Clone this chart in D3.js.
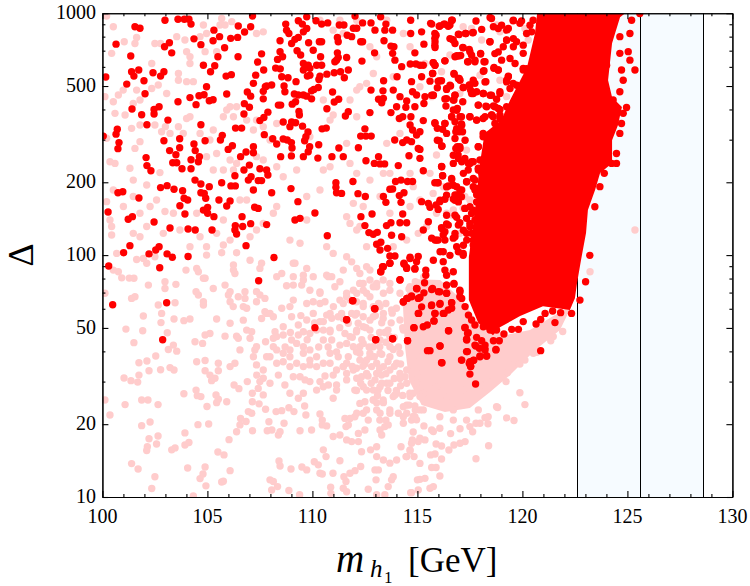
<!DOCTYPE html>
<html>
<head>
<meta charset="utf-8">
<script src="https://cdn.jsdelivr.net/npm/d3@7"></script>
<style>
  html, body { margin: 0; padding: 0; background: #fff; }
  svg { display: block; }
  text { font-family: "Liberation Serif", serif; fill: #000; }
</style>
</head>
<body>
<div id="chart"></div>
<script>
// values: [m_h1 in GeV, log10 of Delta]
const xTicks = [100, 105, 110, 115, 120, 125, 130];
const xMinor = d3.range(100, 131).filter(d => d % 5 !== 0);
const yTicks = [10, 20, 50, 100, 200, 500, 1000];
const yMinor = [30, 40, 60, 70, 80, 90, 300, 400, 600, 700, 800, 900];
const higgsLines = [122.6, 125.6, 128.6];

// outline of the part where the red points merge into one solid patch
const redCloudEdge = [[120.70,3.0],[120.60,2.917],[120.22,2.777],[119.41,2.64],[119.0,2.558],[118.2,2.504],[117.95,2.364],[117.8,2.227],[117.6,2.09],[117.45,1.992],[117.45,1.814],[117.9,1.719],[118.6,1.669],[118.93,1.702],[119.89,1.748],[120.98,1.789],[122.26,1.773],[122.5,1.822],[122.6,1.884],[122.79,1.979],[123.03,2.091],[123.12,2.186],[123.46,2.269],[123.70,2.339],[124.27,2.380],[124.27,2.475],[124.55,2.537],[124.74,2.612],[124.27,2.653],[124.08,2.723],[124.27,2.876],[124.65,2.983],[124.89,3.0]];
// same for the merged pink patch under it
const pinkCloudEdge = [[114.3,1.814],[114.9,1.9],[116.08,1.897],[117.12,1.814],[117.98,1.711],[119.17,1.669],[120.36,1.69],[121.55,1.752],[122.36,1.793],[121.79,1.69],[120.6,1.607],[119.41,1.504],[118.46,1.434],[117.5,1.368],[116.31,1.351],[115.2,1.38],[114.6,1.483],[114.4,1.628]];

const pinkPoints = [
[100.12,1.842],[100.12,1.401],[100.36,1.339],[100.52,1.938],[100.76,1.931],[100.92,1.906],[101.28,1.905],[101.50,1.904],[101.39,1.821],[101.55,1.828],[102.19,1.876],[102.98,1.890],[103.50,1.879],[102.98,1.862],[101.95,1.748],[102.79,1.721],[102.82,1.759],[102.66,1.794],[103.46,1.803],[103.41,1.736],[103.88,1.729],[104.17,1.736],[101.12,1.694],[101.92,1.687],[101.50,1.638],[103.09,1.679],[103.14,1.610],[103.38,1.628],[103.54,1.603],[102.54,1.583],[102.12,1.562],[101.74,1.555],[102.22,1.522],[101.74,1.504],[101.03,1.492],[101.36,1.481],[101.68,1.475],[102.77,1.526],[103.22,1.535],[103.41,1.525],[104.49,1.559],[104.89,1.564],[104.89,1.522],[105.52,1.553],[105.52,1.522],[105.12,1.504],[105.20,1.481],[105.36,1.491],[106.27,1.463],[106.50,1.448],[106.90,1.477],[103.88,1.427],[104.46,1.442],[104.52,1.419],[104.69,1.415],[105.41,1.422],[105.52,1.404],[105.44,1.390],[105.92,1.394],[104.98,1.374],[101.87,1.401],[102.17,1.401],[102.65,1.382],[101.08,1.382],[101.87,1.295],[102.27,1.310],[104.55,1.299],[105.06,1.302],[102.65,1.252],[102.22,1.241],[102.14,1.208],[102.11,1.192],[102.58,1.219],[103.93,1.265],[103.93,1.215],[104.12,1.225],[103.30,1.195],[103.46,1.203],[106.03,1.237],[105.50,1.186],[105.79,1.174],[101.39,1.138],[101.70,1.116],[104.06,1.120],[104.89,1.124],[104.79,1.095],[104.65,1.076],[106.08,1.109],[102.50,1.084],[102.35,1.035],[104.93,1.046],[105.68,1.062],[105.76,1.065],[104.33,1.004],
[107.98,1.071],[108.14,1.064],[108.06,1.029],[108.34,1.043],[108.88,1.027],[108.41,1.149],[108.46,1.128],[108.98,1.116],[109.50,1.124],[109.73,1.112],[110.09,1.146],[110.28,1.133],[110.36,1.098],[110.47,1.095],[110.98,1.098],[109.39,1.009],[110.87,1.040],[110.88,1.015],[111.50,1.084],[111.60,1.064],[111.47,1.036],[111.63,1.022],[111.79,1.098],[112.03,1.109],[112.30,1.126],[112.66,1.032],[112.98,1.112],[113.14,1.112],[113.03,1.071],[113.85,1.084],[113.77,1.071],[113.61,1.043],[113.45,1.009],[113.06,1.009],[114.72,1.018],[115.00,1.071],
[110.52,1.195],[110.65,1.167],[111.31,1.150],[112.34,1.187],[112.77,1.195],[113.06,1.208],[113.06,1.167],[113.38,1.153],[113.69,1.140],[114.01,1.153],[114.49,1.167],[114.65,1.195],[114.76,1.236],[115.04,1.229],
[106.39,1.270],[107.15,1.274],[107.85,1.274],[108.07,1.277],[108.38,1.256],[108.46,1.270],[108.65,1.305],[109.41,1.274],[109.96,1.277],[107.93,1.311],[106.55,1.298],[106.84,1.312],[106.58,1.325],[106.95,1.353],[107.11,1.346],[107.14,1.394],[107.14,1.429],[107.46,1.385],[107.77,1.363],[108.27,1.353],[108.54,1.357],[108.88,1.369],[109.12,1.353],[109.69,1.339],[109.63,1.376],[110.36,1.343],[110.47,1.318],[110.47,1.298],[110.68,1.294],[111.60,1.291],[111.31,1.256],[111.63,1.236],[111.87,1.229],[112.19,1.229],[112.50,1.277],[112.19,1.263],[110.99,1.250],[111.79,1.325],[112.11,1.346],[112.50,1.394],[113.06,1.390],[113.38,1.390],[113.85,1.415],[114.49,1.380],[114.88,1.376],[115.12,1.360],[113.50,1.318],[113.61,1.298],[113.22,1.277],[113.30,1.256],[114.09,1.346],[114.33,1.305],[114.72,1.318],
[107.35,1.504],[107.50,1.477],[107.42,1.449],[107.66,1.422],[107.98,1.470],[107.66,1.491],[108.38,1.504],[108.69,1.463],[108.93,1.429],[109.33,1.408],[109.57,1.429],[110.20,1.442],[110.52,1.456],[110.76,1.463],[111.15,1.463],[111.15,1.442],[110.99,1.408],[110.99,1.504],[110.36,1.477],[109.09,1.497],[109.41,1.497],[109.65,1.484],[109.88,1.477],[108.93,1.539],[109.25,1.553],[109.57,1.539],[109.88,1.546],[108.30,1.553],[107.66,1.525],[107.19,1.580],[107.26,1.608],[107.34,1.546],[107.82,1.580],[108.14,1.621],[108.61,1.559],[108.93,1.608],[109.25,1.635],[109.57,1.621],[109.88,1.608],[110.20,1.580],[110.52,1.649],[110.84,1.594],[111.23,1.580],[111.63,1.553],[111.95,1.525],[112.11,1.491],[112.42,1.456],[112.90,1.442],[113.22,1.456],[113.54,1.470],[114.01,1.429],[114.41,1.497],[114.80,1.429],[111.63,1.484],[111.47,1.539],[113.06,1.511],[113.38,1.539],[113.69,1.580],[114.01,1.553],[114.49,1.525],[114.96,1.511],[115.12,1.580],[112.26,1.594],[112.58,1.566],[112.90,1.621],[113.22,1.594],[113.69,1.621],[114.17,1.594],[114.65,1.621],
[106.87,1.690],[107.11,1.683],[106.55,1.608],[106.31,1.553],[106.08,1.539],[105.84,1.665],[106.39,1.665],[106.47,1.656],[107.03,1.656],[107.34,1.621],[107.77,1.642],[108.14,1.656],[108.30,1.663],[108.61,1.670],[109.01,1.649],[109.33,1.670],[109.57,1.683],[109.88,1.676],[110.20,1.690],[110.84,1.690],[110.84,1.683],[111.55,1.676],[111.79,1.663],[112.11,1.690],[112.42,1.704],[112.74,1.690],[106.71,1.731],[106.08,1.718],[105.44,1.736],[105.12,1.676],[104.89,1.670],[104.77,1.635],[104.41,1.642],[104.57,1.835],[104.46,1.849],[104.81,1.807],[104.81,1.794],[105.28,1.862],[105.84,1.876],[106.08,1.849],[106.00,1.835],[106.08,1.807],[106.47,1.828],[106.23,1.787],[106.79,1.849],[106.79,1.821],[106.71,1.787],[106.87,1.780],[107.34,1.849],[107.50,1.835],[107.74,1.821],[107.34,1.807],[107.74,1.766],[107.82,1.759],[107.58,1.738],[107.98,1.759],[108.14,1.745],[108.22,1.683],[108.61,1.704],[108.54,1.780],[108.93,1.787],[109.09,1.814],[109.49,1.876],[109.09,1.876],[108.77,1.873],[109.73,1.800],[110.04,1.807],[110.36,1.800],[110.60,1.807],[110.36,1.848],[110.84,1.759],[110.52,1.725],[110.92,1.739],[111.23,1.745],[111.31,1.814],[112.11,1.842],[112.42,1.883],[112.74,1.897],[113.06,1.869],[111.79,1.814],[112.11,1.759],[112.42,1.787],[112.90,1.745],[113.22,1.787],
[109.57,1.917],[109.17,1.966],[109.73,1.945],[110.04,1.911],[110.68,1.917],[110.92,1.911],[111.63,1.993],[112.11,1.945],[112.58,1.952],[106.24,1.959],[106.24,1.938],[106.31,1.924],[107.03,1.979],[107.58,1.966],[107.50,1.945],[108.30,1.911],[108.54,1.924],[109.09,1.911],[104.89,1.904],[104.81,1.904],[104.49,1.945],[104.57,1.931],[103.98,1.938],[102.50,1.993],[102.11,1.966],[101.63,1.982],[101.95,1.986],[104.96,2.000],[105.68,2.010],[106.39,2.010],
[100.52,2.944],[100.20,2.988],[101.04,2.882],[101.55,2.875],[101.63,2.900],[100.44,2.834],[102.35,2.792],[102.50,2.875],[102.77,2.875],[104.01,2.841],[104.17,2.820],[103.54,2.903],[103.93,2.889],[104.81,2.951],[104.96,2.916],[104.65,2.903],[105.68,2.978],[105.60,2.951],[107.66,2.923],[107.34,2.916],[105.84,2.951],[106.16,2.965],[104.17,2.792],[104.89,2.841],[105.44,2.841],[103.62,2.751],[104.01,2.717],[104.33,2.717],[103.62,2.723],[103.06,2.668],[102.66,2.703],[102.35,2.689],[101.63,2.682],[100.99,2.682],[100.76,2.662],[101.47,2.627],[101.79,2.641],[100.52,2.634],[100.60,2.586],[100.12,2.655],[101.08,2.579],[101.39,2.524],[101.79,2.538],[101.55,2.441],[101.79,2.469],[100.20,2.483],[100.36,2.386],[100.60,2.379],[101.31,2.359],[102.74,2.341],[101.47,2.310],[102.11,2.290],[100.52,2.269],[100.20,2.221],[102.98,2.180],[103.38,2.173],[100.44,2.118],[101.79,2.076],[100.68,2.007],[100.44,2.083],[101.47,2.090],[102.90,2.090],[103.69,2.104],[104.65,2.076],[105.76,2.042],[104.17,2.035],[104.96,2.035],[103.00,2.531],[102.50,2.538],[102.82,2.510],[104.01,2.565],[104.17,2.572],[103.85,2.503],[103.62,2.531],[103.22,2.503],[104.65,2.503],[105.28,2.517],[105.76,2.572],[105.92,2.600],[106.08,2.613],[106.39,2.613],[106.24,2.572],[106.87,2.558],[107.19,2.517],[107.34,2.558],[105.12,2.476],[105.44,2.420],[106.08,2.393],[106.24,2.352],[105.76,2.352],[104.96,2.407],[105.28,2.352],[106.39,2.379],[108.30,2.365],[108.61,2.324],[107.66,2.393],[107.34,2.407],[109.25,2.352],[110.52,2.352],[110.84,2.365],[111.63,2.462],[111.79,2.379],[112.11,2.338],[109.88,2.489],[110.84,2.558],[110.99,2.579],[111.79,2.641],[112.11,2.572],[112.26,2.696],[110.52,2.641],[107.66,2.531],[108.30,2.544],[107.98,2.476],[109.73,2.242],[110.36,2.269],[109.73,2.145],[108.30,2.201],[107.66,2.131],[107.34,2.104],[107.03,2.076],[108.93,2.062],[109.41,2.049],[110.68,2.035],[110.99,2.007],[112.11,2.104],[111.63,2.159],[111.79,2.131],[108.14,2.173],[106.55,2.228],[106.87,2.228],[105.76,2.145],[105.44,2.090],[106.08,2.062],[104.49,2.173],[102.58,2.228],[102.27,2.201],[101.47,2.242],[101.00,2.201],[100.36,2.145],[102.11,2.118],[101.79,2.173],
[111.31,2.971],[110.36,2.971],[110.99,2.930],[111.47,2.916],[112.11,2.971],[113.54,2.971],[114.33,2.916],[114.65,2.861],[112.74,2.861],[113.06,2.820],[112.90,2.751],[112.58,2.710],[112.11,2.682],[113.85,2.737],[114.17,2.503],[113.54,2.462],[113.38,2.338],[112.74,2.310],[113.69,2.338],[114.65,2.338],[114.80,2.283],[113.22,2.242],[112.42,2.201],[111.95,2.214],[112.26,2.118],[113.69,2.173],[114.65,2.201],[115.12,2.228],[115.04,2.090],[114.49,2.062],[113.85,2.035],[112.58,2.035],
[117.18,2.944],[117.58,2.937],[118.06,2.889],[118.93,2.923],[118.77,2.951],[120.28,2.889],[120.12,2.937],[120.91,2.847],[116.55,2.827],[116.15,2.758],[115.36,2.792],[115.12,2.696],[117.02,2.668],[119.56,2.703],[119.25,2.655],[118.93,2.723],[117.98,2.744],[115.68,2.655],[117.34,2.434],[115.91,2.414],[115.60,2.338],[115.75,2.255],[117.02,2.242],[117.26,2.242],[117.18,2.194],[116.23,2.283],[116.71,2.187],[116.39,2.173],[117.50,2.228],[116.63,2.166],[117.02,2.090],[116.23,2.090],[115.44,2.118],[115.91,2.173],[125.36,2.104],
[123.22,1.931],[121.92,1.684],[121.47,1.663],[121.35,1.646],[120.52,1.594],[120.68,1.598],[120.12,1.566],[119.88,1.550],[119.49,1.544],[119.28,1.514],[119.22,1.477],[119.88,1.431],[120.12,1.382],[118.82,1.370],[119.25,1.327],[119.60,1.316],[118.36,1.303],[118.22,1.328],[117.90,1.360],[117.79,1.305],[117.50,1.291],[117.63,1.270],[117.03,1.282],[116.58,1.262],[118.39,1.212],[117.79,1.158],[117.27,1.229],[117.03,1.222],[116.74,1.215],[116.50,1.194],[116.15,1.211],[115.89,1.219],[116.15,1.157],[115.84,1.178],[115.63,1.174],[115.12,1.139],[115.68,1.122],[115.89,1.122],[116.07,1.087],[115.36,1.077],[115.12,1.073],[115.76,1.043],[115.60,1.036],[115.04,1.029],[114.68,1.018],[114.46,1.167],[114.84,1.167],[114.65,1.190],[114.22,1.208],[114.72,1.222],[115.12,1.243],[115.36,1.236],[115.68,1.277],[116.07,1.284],[114.80,1.269],[115.31,1.294],[114.96,1.319],[114.49,1.346],[114.80,1.333],[115.76,1.271],
[111.47,1.938],[111.87,1.972],[112.26,1.924],[112.74,1.938],[113.06,1.883],[112.26,1.883],[111.63,1.842],[112.42,1.855],[112.74,1.828],[113.37,1.897],[113.69,1.855],[112.10,1.807],[111.47,1.800],[112.42,1.800],[111.87,1.759],[112.74,1.731],[113.37,1.738],[111.47,1.738],[112.18,1.718],[112.10,1.683],[111.63,1.635],[112.26,1.621],[111.71,1.580],[112.26,1.566],[112.74,1.580],[113.21,1.621],[111.47,1.539],[112.10,1.532],[112.82,1.539],[111.63,1.511],[112.34,1.497],[112.98,1.484],[113.29,1.504],[112.02,1.442],[112.58,1.442],[113.13,1.442],[113.69,1.470],[114.17,1.490],[113.93,1.422],[113.37,1.401],[112.90,1.401],[112.26,1.387],[112.58,1.360],[113.06,1.360],[112.02,1.332],[111.55,1.325],[111.71,1.298],[112.66,1.318],[113.21,1.318],[113.69,1.346],[114.33,1.373],[113.45,1.291],[114.33,1.332],[114.88,1.332],[115.28,1.360],[116.07,1.332],[116.71,1.318],[117.34,1.318],[117.98,1.305],[118.37,1.332],[118.77,1.373],[116.71,1.360],[114.64,1.429],[115.28,1.429],[115.91,1.456],[116.39,1.415],[117.18,1.442],[118.13,1.435],[118.29,1.484],
[109.09,1.966],[109.57,1.897],[109.88,1.855],[110.36,1.842],[110.76,1.911],[111.07,1.869],[111.31,1.890],[111.63,1.828],[111.95,1.855],[112.26,1.883],[112.58,1.842],[112.90,1.869],[113.38,1.842],[113.69,1.883],[114.17,1.842],[114.65,1.869],[115.12,1.828],[109.01,1.745],[109.33,1.711],[109.73,1.732],[110.04,1.759],[110.36,1.725],[110.68,1.752],[111.00,1.787],[111.39,1.759],[111.71,1.718],[112.03,1.752],[112.42,1.745],[112.90,1.787],[113.38,1.759],[113.77,1.773],[114.17,1.732],[114.65,1.759],[115.04,1.718],[110.52,1.690],[110.92,1.649],[111.31,1.628],[111.95,1.621],[112.42,1.635],[112.74,1.594],[113.22,1.649],[113.69,1.663],[114.33,1.690],[114.96,1.663],[109.57,1.594],[109.88,1.566],[110.20,1.539],[110.52,1.553],[110.84,1.553],[111.15,1.525],[108.61,1.594],[108.93,1.580],[108.30,1.608],[107.98,1.580],[112.58,1.511],[113.06,1.553],[113.69,1.525],[114.17,1.511],[114.96,1.470],[114.49,1.470],[112.90,1.401],[113.69,1.360],[114.65,1.415],[115.12,1.415],[113.22,1.346],[112.42,1.346],
[113.5,1.80],[113.8,1.76],[113.3,1.72],[113.6,1.69],[113.9,1.66],[113.2,1.68],[113.5,1.64],[113.85,1.61],[113.3,1.59],[113.6,1.56],[113.9,1.54],[113.2,1.53],[113.5,1.51],[113.9,1.49],[114.2,1.46],[114.0,1.44],[113.6,1.44],[113.3,1.47],[114.3,1.42],[114.6,1.38],[114.9,1.36],[114.2,1.55],[114.1,1.62],[114.3,1.70],[114.0,1.78],[114.4,1.80],[114.6,1.86],[114.9,1.89],[115.3,1.91],[112.8,1.66],[112.7,1.62],[112.5,1.55],[112.8,1.47],[112.3,1.47],[112.1,1.60],[111.9,1.66],[111.9,1.54],[112.1,1.44],
[113.0,1.75],[113.15,1.80],[113.75,1.72],[112.95,1.58],[113.45,1.68],[112.55,1.70],[112.35,1.65],[112.65,1.50],[113.1,1.42],[112.4,1.54],[111.3,1.70],[111.15,1.60],[110.75,1.62],[110.6,1.50],[110.3,1.62],[110.1,1.72],[109.75,1.65],[109.45,1.75],[108.95,1.68],[108.7,1.62]
];

const redPoints = [
[102.98,2.971],[103.60,2.975],[103.90,2.975],[104.12,2.975],[104.22,2.955],[101.55,2.944],[101.79,2.938],[105.31,2.930],[106.47,2.947],[107.06,2.944],[106.77,2.922],[107.15,2.988],[100.65,2.872],[102.96,2.861],[103.19,2.878],[103.30,2.836],[101.35,2.823],[104.36,2.894],[104.69,2.870],[105.27,2.886],[105.58,2.903],[106.11,2.896],[106.44,2.900],[105.82,2.857],[105.50,2.820],[106.46,2.820],[104.81,2.785],[105.35,2.783],[105.15,2.758],[105.89,2.740],[106.14,2.746],[101.73,2.765],[101.39,2.758],[101.50,2.740],[102.41,2.754],[102.77,2.740],[102.93,2.758],[100.16,2.736],[101.16,2.707],[101.98,2.721],[102.03,2.667],[104.96,2.696],[104.17,2.651],[104.60,2.659],[104.84,2.663],[103.60,2.634],[104.46,2.622],[105.09,2.638],[105.27,2.642],[105.92,2.666],[101.41,2.604],[101.87,2.580],[102.46,2.602],[102.46,2.583],[102.70,2.613],[103.12,2.558],[102.12,2.539],[100.71,2.520],[100.65,2.500],[100.04,2.492],[100.79,2.465],[100.74,2.440],[102.93,2.473],[103.68,2.481],[103.68,2.444],[103.20,2.432],[103.50,2.415],[102.08,2.403],[102.12,2.370],[102.31,2.349],[103.35,2.382],[103.54,2.382],[103.79,2.357],[104.22,2.357],[104.22,2.394],[104.36,2.459],[104.42,2.432],[104.62,2.407],[104.57,2.386],[104.89,2.473],[104.69,2.539],[105.71,2.495],[105.62,2.476],[105.99,2.437],[106.19,2.452],[106.34,2.525],[106.63,2.525],[106.58,2.407],[106.84,2.426],[107.19,2.448],[107.19,2.423],[106.74,2.583],[106.76,2.626],[107.00,2.611],[106.90,2.674],[107.06,2.657],[107.19,2.710],[107.30,2.744],[107.68,2.765],[107.39,2.798],[107.58,2.832],[107.76,2.696],[107.66,2.677],[107.82,2.699],[108.06,2.703],[107.66,2.646],[107.88,2.591],[107.69,2.569],[107.50,2.556],[108.38,2.620],[108.49,2.620],[108.61,2.550],[107.71,2.498],[108.11,2.481],[108.30,2.459],[108.61,2.480],[108.80,2.476],[109.00,2.465],[109.03,2.443],[108.49,2.407],[109.00,2.410],[108.93,2.531],[109.01,2.550],[109.20,2.547],[109.53,2.533],[109.79,2.509],[109.69,2.489],[109.63,2.473],[109.87,2.448],[109.80,2.427],[109.57,2.407],[110.30,2.456],[110.26,2.401],[110.93,2.407],[111.26,2.443],[111.47,2.407],[110.46,2.522],[110.66,2.525],[110.69,2.605],[109.36,2.594],[109.38,2.579],[109.20,2.634],[109.04,2.624],[109.14,2.666],[109.33,2.662],[109.73,2.657],[109.57,2.662],[109.96,2.646],[109.96,2.679],[110.28,2.693],[110.07,2.685],[110.96,2.674],[111.25,2.644],[111.04,2.633],[111.71,2.593],[111.57,2.575],[108.65,2.699],[108.69,2.675],[108.54,2.737],[108.84,2.733],[109.22,2.717],[108.47,2.770],[108.25,2.773],[108.34,2.809],[108.46,2.841],[108.58,2.820],[108.46,2.886],[108.73,2.955],[108.77,2.930],[108.88,2.916],[109.01,2.875],[109.17,2.892],[109.33,2.900],[109.27,2.845],[109.44,2.827],[109.57,2.792],[109.80,2.785],[109.88,2.772],[109.57,2.765],[109.88,2.744],[109.76,2.740],[110.04,2.847],[109.82,2.878],[110.33,2.882],[110.44,2.882],[110.39,2.820],[110.20,2.785],[110.44,2.785],[110.36,2.740],[110.31,2.726],[110.69,2.748],[111.04,2.754],[111.34,2.758],[111.52,2.733],[111.71,2.765],[111.15,2.806],[111.07,2.799],[111.19,2.836],[111.23,2.817],[111.63,2.817],[112.36,2.802],[111.19,2.900],[111.23,2.882],[111.28,2.951],[111.50,2.951],[111.66,2.909],[111.87,2.903],[111.95,2.938],[112.11,2.938],[112.30,2.882],[112.39,2.882],[112.39,2.960],[112.79,2.960],[112.98,2.930],[112.96,2.836],[113.41,2.886],[113.45,2.930],[113.50,2.955],[113.82,2.930],[109.73,2.985],[109.33,2.969],[109.52,2.955],[109.73,2.937],[109.57,2.923],[110.17,2.969],[110.44,2.955],[110.73,2.960],[112.03,2.988],[113.25,2.985],[113.74,2.864],[113.88,2.861],[113.82,2.834],[113.93,2.806],[114.25,2.779],[114.66,2.790],[114.88,2.836],[114.93,2.790],[115.12,2.785],[114.68,2.971],[114.68,2.916],[113.39,2.721],[114.03,2.737],[114.72,2.717],[112.79,2.682],[113.36,2.679],[113.85,2.682],[114.77,2.675],[114.96,2.662],[112.74,2.589],[113.15,2.644],[113.38,2.648],[113.30,2.630],[114.17,2.655],[114.49,2.637],[113.74,2.589],[114.01,2.613],[114.45,2.611],[114.88,2.613],[114.30,2.572],[114.14,2.565],[114.69,2.572],[114.65,2.538],[114.77,2.517],[114.96,2.496],[115.12,2.510],[112.50,2.522],[112.30,2.492],[112.55,2.492],[112.80,2.492],[113.92,2.476],[114.30,2.465],[114.49,2.476],[114.72,2.469],[112.19,2.444],[114.60,2.411],[115.04,2.441],[113.15,2.407],[112.55,2.390],[112.95,2.379],[113.22,2.377],[113.44,2.377],[114.09,2.370],[115.12,2.400],[113.96,2.304],[114.22,2.310],[114.53,2.304],[114.77,2.304],[111.93,2.304],[111.12,2.299],[111.12,2.280],[111.15,2.258],[111.39,2.255],[112.17,2.254],[112.52,2.242],[113.38,2.242],[113.82,2.273],[113.69,2.272],[114.36,2.258],[114.14,2.246],[113.50,2.218],[114.22,2.218],[114.30,2.170],[112.84,2.170],[112.31,2.159],[112.50,2.122],[113.53,2.122],[113.74,2.134],[114.17,2.134],[114.49,2.134],[112.69,2.093],[112.90,2.086],[113.09,2.094],[113.77,2.082],[114.25,2.076],[113.06,2.045],[113.26,2.053],[113.22,2.021],[113.58,2.028],[113.69,1.996],[113.93,1.996],[114.65,1.991],[115.04,1.994],[110.71,2.080],[110.12,2.174],[109.17,2.145],[109.41,2.152],[109.31,2.221],[108.98,2.275],[108.06,2.258],[107.19,2.269],[107.25,2.198],[107.42,2.193],[107.82,2.126],[107.06,2.130],[106.68,2.118],[106.65,2.159],[106.33,2.122],[106.31,2.104],[106.39,2.087],[106.84,2.039],[108.17,1.990],[105.68,2.299],[106.12,2.286],[106.33,2.286],[106.31,2.328],[106.95,2.310],[107.08,2.324],[107.42,2.308],[107.58,2.308],[107.82,2.352],[107.88,2.331],[107.50,2.357],[106.74,2.352],[107.00,2.372],[105.09,2.283],[104.69,2.294],[104.41,2.310],[104.69,2.258],[104.85,2.255],[104.92,2.235],[105.55,2.228],[106.08,2.224],[105.92,2.203],[105.01,2.197],[104.81,2.186],[105.01,2.173],[105.31,2.159],[105.22,2.104],[104.42,2.104],[104.08,2.108],[103.93,2.170],[103.69,2.204],[104.06,2.228],[103.89,2.235],[103.82,2.266],[103.41,2.272],[103.08,2.287],[102.77,2.279],[101.74,2.236],[100.97,2.262],[100.74,2.258],[100.27,2.178],[101.23,2.148],[101.43,2.159],[102.46,2.137],[103.22,2.112],[101.31,2.039],[101.01,2.010],[102.22,2.005],[102.54,2.021],[102.70,2.035],[103.08,2.005],[103.33,1.991],[104.08,1.994],
[100.30,1.955],[100.49,1.795],[102.73,1.948],[103.06,1.803],[102.87,1.650],[107.44,1.894],[110.12,1.700],[111.93,1.811],[111.63,1.733],[112.96,1.778],[113.01,1.650],[113.82,1.654],[114.53,1.646],[114.84,1.700],[115.04,1.759],[114.17,1.898],[113.26,1.931],[113.38,1.952],[113.69,1.966],[114.36,1.963],[114.49,1.945],[114.88,1.945],[114.96,1.973],[114.65,1.986],[114.33,1.807],[114.49,1.821],[114.72,1.828],[115.04,1.821],[114.96,1.862],
[115.63,2.958],[116.07,2.947],[116.26,2.955],[116.55,2.951],[116.66,2.971],[115.83,2.916],[115.83,2.896],[115.20,2.923],[115.31,2.872],[115.83,2.868],[116.66,2.892],[116.79,2.875],[116.99,2.912],[117.29,2.916],[117.66,2.920],[118.06,2.933],[118.45,2.882],[118.53,2.978],[118.85,2.937],[119.25,2.930],[119.56,2.969],[119.88,2.958],[119.25,2.889],[119.72,2.882],[117.18,2.857],[117.50,2.841],[117.74,2.806],[118.01,2.834],[116.95,2.823],[116.79,2.820],[116.31,2.803],[115.75,2.795],[115.83,2.785],[115.28,2.785],[115.20,2.737],[115.72,2.751],[115.60,2.719],[115.99,2.719],[116.15,2.721],[116.58,2.699],[116.39,2.685],[116.75,2.748],[116.99,2.730],[117.42,2.799],[118.17,2.799],[118.17,2.762],[118.64,2.772],[118.85,2.765],[117.18,2.693],[117.47,2.703],[117.74,2.710],[118.26,2.717],[119.25,2.723],[119.33,2.740],[120.04,2.772],
[115.75,2.661],[115.68,2.661],[115.36,2.655],[115.31,2.627],[116.79,2.661],[116.71,2.641],[116.31,2.645],[116.36,2.616],[117.53,2.682],[117.66,2.668],[118.13,2.668],[118.53,2.661],[118.77,2.644],[118.93,2.675],[117.90,2.620],[118.26,2.616],[118.69,2.613],[118.93,2.602],[116.71,2.600],[116.90,2.606],[117.10,2.572],[116.63,2.572],[117.50,2.572],[117.82,2.558],[118.13,2.565],[118.53,2.579],[118.93,2.565],[119.25,2.551],[115.28,2.556],[115.83,2.547],[115.95,2.524],[116.31,2.544],[116.20,2.520],[116.83,2.510],[117.15,2.510],[117.10,2.542],[118.13,2.489],[118.45,2.476],[118.69,2.503],[119.09,2.510],[116.04,2.473],[116.17,2.451],[115.12,2.437],[116.83,2.441],[117.02,2.448],[117.26,2.400],[116.94,2.414],[117.50,2.379],[117.66,2.386],[116.71,2.379],[117.42,2.352],[117.90,2.359],[118.06,2.338],[116.15,2.366],[116.20,2.328],[115.28,2.349],[115.83,2.299],[115.99,2.299],[116.63,2.317],[116.87,2.283],[116.47,2.286],[117.02,2.269],[116.79,2.249],[116.71,2.232],[117.10,2.241],[116.31,2.231],[116.07,2.221],[115.52,2.214],[115.60,2.198],[115.20,2.221],[115.99,2.189],[117.34,2.303],[117.74,2.310],[117.82,2.276],[117.98,2.221],[117.26,2.193],[117.66,2.186],[117.82,2.249],[116.39,2.129],[115.52,2.138],[115.28,2.104],[116.15,2.113],[116.31,2.097],[115.99,2.062],[116.23,2.014],[115.68,2.070],[115.91,2.062],[117.02,2.134],[117.34,2.152],[117.50,2.131],[116.79,2.090],[116.71,2.070],[116.95,2.014],[116.55,1.999],[117.18,1.999],[117.66,2.042],
[115.68,2.955],[116.04,2.946],[116.31,2.955],[116.47,2.946],[116.63,2.971],[117.79,2.968],[118.46,2.982],[118.62,2.944],[119.01,2.950],[119.33,2.937],[119.57,2.971],[119.96,2.968],[120.36,2.950],[120.44,2.923],[120.84,2.944],[115.89,2.909],[115.84,2.882],[115.84,2.858],[116.55,2.895],[116.71,2.888],[116.95,2.913],[117.31,2.916],[117.63,2.919],[118.46,2.882],[119.09,2.861],[119.25,2.888],[119.57,2.895],[119.57,2.861],[120.04,2.868],[117.16,2.858],[117.47,2.850],[117.58,2.826],[118.01,2.831],[116.87,2.824],[117.06,2.825],[117.39,2.799],[117.74,2.799],[118.22,2.799],[116.31,2.803],[115.76,2.795],[115.84,2.785],[116.74,2.751],[116.95,2.730],[117.03,2.723],[118.14,2.760],[115.73,2.751],[118.69,2.833],[118.85,2.840],[119.01,2.806],[119.41,2.813],[119.65,2.792],[118.65,2.776],[118.85,2.765],[119.33,2.737],[119.25,2.716],[118.22,2.716],[117.66,2.723],[117.19,2.693],[116.04,2.720],[115.95,2.692],[116.39,2.689],[116.55,2.702],[115.76,2.661],[116.39,2.647],[116.79,2.661],[116.74,2.641],[117.50,2.702],[117.58,2.668],[117.82,2.675],[118.14,2.668],[118.46,2.661],[118.93,2.668],[119.41,2.689],[119.73,2.702],[120.20,2.771],[117.16,2.634],[117.90,2.620],[118.30,2.613],[118.62,2.617],[118.85,2.606],[119.25,2.613],[116.87,2.599],[116.63,2.572],[117.03,2.572],[116.79,2.551],[117.11,2.537],[117.50,2.572],[117.82,2.558],[118.22,2.572],[118.54,2.579],[118.69,2.544],[119.01,2.558],[115.84,2.544],[116.31,2.544],[116.87,2.523],[119.57,2.627],[119.88,2.654],
[116.39,2.503],[116.79,2.482],[117.00,2.510],[117.27,2.475],[115.95,2.475],[116.16,2.450],[116.90,2.448],[117.03,2.441],[117.90,2.448],[116.71,2.413],[116.95,2.399],[117.11,2.386],[117.58,2.386],[117.43,2.379],[116.16,2.365],[117.98,2.351],[116.20,2.328],[117.19,2.338],[117.66,2.317],[116.63,2.313],[115.95,2.299],[117.35,2.303],[116.39,2.282],[116.71,2.289],[117.11,2.269],[116.87,2.248],[117.74,2.269],[116.39,2.248],[116.08,2.227],[115.89,2.207],[116.95,2.220],[116.79,2.227],[117.82,2.220],[117.27,2.193],[116.39,2.165],[116.79,2.165],[116.87,2.156],[117.58,2.172],[117.74,2.145],[116.16,2.110],[116.47,2.124],[116.95,2.124],[117.19,2.103],[117.50,2.117],[117.58,2.090],[116.23,2.083],[115.84,2.062],[116.31,2.062],[116.79,2.076],[117.35,2.062],[117.66,2.062],[116.87,2.035],[117.19,2.041],[117.90,2.103],[117.98,2.186],[118.14,2.276],[118.22,2.227],[118.30,2.179],[118.06,2.145],[118.22,2.103],[118.14,2.048],
[116.08,2.014],[115.76,1.979],[116.23,1.973],[116.31,1.938],[116.39,1.917],[116.71,1.931],[116.74,1.883],[115.68,1.858],[116.00,1.849],[116.39,1.876],[116.39,1.842],[117.03,1.849],[117.11,1.821],[115.68,1.794],[116.08,1.800],[116.63,1.803],[115.84,1.759],[116.27,1.759],[116.63,1.780],[115.79,1.729],[117.27,1.787],[117.43,1.752],[117.58,1.732],[117.74,1.711],[117.27,1.701],[117.39,1.676],[117.35,1.649],[117.82,1.660],[118.06,1.646],[118.22,1.628],[117.74,1.628],[117.95,1.615],[118.22,1.608],[117.98,1.583],[118.30,1.583],[118.74,1.608],[118.62,1.646],[118.90,1.646],[119.12,1.674],[119.49,1.693],[119.81,1.693],[120.04,1.725],[120.65,1.715],[120.87,1.734],[121.08,1.759],[121.44,1.769],[121.82,1.762],[122.34,1.759],[121.55,1.721],[120.87,1.605],[117.11,1.566],[117.38,1.601],[117.50,1.559],[117.66,1.564],[117.54,1.539],[116.49,1.687],[116.08,1.624],[116.17,1.555],[115.60,1.605],[122.74,1.814],[123.01,1.890],[118.77,1.690],[118.46,1.690],[118.14,1.704],
[113.69,1.966],[113.34,1.952],[113.25,1.931],[114.36,1.966],[114.48,1.949],[114.88,1.942],[114.17,1.897],[115.40,1.938],[115.40,1.917],[115.34,1.886],[114.98,1.861],[115.72,1.862],[115.31,1.844],[115.12,1.825],[114.72,1.831],[114.53,1.821],[114.33,1.806],[115.20,1.786],[115.67,1.791],[116.07,1.797],[116.63,1.803],[116.47,1.773],[116.23,1.759],[115.83,1.759],[115.06,1.759],[115.79,1.727],[115.47,1.711],[115.28,1.704],[114.83,1.700],[116.48,1.687],[117.26,1.700],[117.42,1.679],[117.34,1.652],[116.07,1.624],[115.48,1.605],[114.53,1.646],[113.82,1.654],[113.02,1.650],[112.98,1.778],[111.91,1.811],[111.63,1.733],[116.15,1.555],[117.10,1.566],[117.34,1.601],[117.47,1.552],[117.69,1.566],[117.53,1.541],[117.50,1.508],[117.77,1.467],[117.98,1.580],[118.29,1.583],[118.21,1.614],[117.78,1.624],[118.74,1.610],[116.39,1.876],[116.74,1.880],[117.02,1.855],[116.07,1.848],[116.39,1.842],[117.02,1.828],
[125.36,2.765],[125.04,2.841],[125.12,2.806],[124.72,2.765],[124.64,2.834],[124.80,2.723],[124.64,2.675],[124.96,2.610],[124.80,2.586],[124.72,2.544],[124.64,2.503],[124.48,2.420],[124.48,2.379],[124.25,2.379],[123.90,2.338],[123.69,2.283],[123.45,2.200],[123.21,1.999],[125.59,2.999],[125.20,2.971],[125.12,2.916],[124.64,2.903],[124.01,2.785],[123.77,2.751],[124.32,2.641],
[119.88,2.682],[119.72,2.655],[119.41,2.600],[118.93,2.579],[118.61,2.572],[118.13,2.503],[117.90,2.448],[117.98,2.393],[117.90,2.352],[117.66,2.283],[117.50,2.200],[117.34,2.090],[117.18,2.007],[120.51,2.971],[120.20,2.916],[120.04,2.834],[120.04,2.765],[119.56,2.710]
];

const margin = { left: 102.4, right: 732.4, top: 13.2, bottom: 497 };

const svg = d3.select("#chart").append("svg")
    .attr("width", 750)
    .attr("height", 586);

const x = d3.scaleLinear().domain([100, 130]).range([margin.left, margin.right]);
const y = d3.scaleLog().domain([10, 1000]).range([margin.bottom, margin.top]);
const yl = l => y(Math.pow(10, l));

svg.append("clipPath").attr("id", "plot-clip")
    .append("rect")
    .attr("x", margin.left).attr("y", margin.top)
    .attr("width", margin.right - margin.left)
    .attr("height", margin.bottom - margin.top);

// allowed mass band
svg.append("rect")
    .attr("x", x(higgsLines[0]))
    .attr("y", margin.top)
    .attr("width", x(higgsLines[2]) - x(higgsLines[0]))
    .attr("height", margin.bottom - margin.top)
    .attr("fill", "#f6fbff");

// band edges, the points sit on top of them
svg.selectAll(".band-line").data(higgsLines).enter().append("line")
    .attr("class", "band-line")
    .attr("x1", d => x(d)).attr("x2", d => x(d))
    .attr("y1", margin.top).attr("y2", margin.bottom)
    .attr("stroke", "#000").attr("stroke-width", 1)
    .attr("shape-rendering", "crispEdges");

const plot = svg.append("g").attr("clip-path", "url(#plot-clip)");
const outline = d3.line().x(d => x(d[0])).y(d => yl(d[1]));

plot.append("path").attr("d", outline(pinkCloudEdge) + "Z").attr("fill", "#ffcccc");
plot.selectAll(".pink").data(pinkPoints).enter().append("circle")
    .attr("class", "pink")
    .attr("cx", d => x(d[0])).attr("cy", d => yl(d[1])).attr("r", 3.7)
    .attr("fill", "#ffcccc");

plot.append("path").attr("d", outline(redCloudEdge) + "Z").attr("fill", "#ff0000");
plot.selectAll(".red").data(redPoints).enter().append("circle")
    .attr("class", "red")
    .attr("cx", d => x(d[0])).attr("cy", d => yl(d[1])).attr("r", 3.7)
    .attr("fill", "#ff0000");

// frame and ticks
function addTicks(axis, values, size) {
    return axis.tickValues(values).tickSize(size).tickFormat("");
}
const tx = `translate(0,${margin.bottom})`, ty = `translate(${margin.left},0)`;
const tx2 = `translate(0,${margin.top})`, ty2 = `translate(${margin.right},0)`;
const axes = [
    [d3.axisBottom(x), tx, xMinor, -3], [d3.axisBottom(x), tx, xTicks, -6],
    [d3.axisTop(x), tx2, xMinor, -3], [d3.axisTop(x), tx2, xTicks, -6],
    [d3.axisLeft(y), ty, yMinor, -3], [d3.axisLeft(y), ty, yTicks, -6],
    [d3.axisRight(y), ty2, yMinor, -3], [d3.axisRight(y), ty2, yTicks, -6]
];
axes.forEach(([axis, tr, values, size]) => {
    const g = svg.append("g").attr("transform", tr)
        .call(addTicks(axis, values, size).tickSizeOuter(0));
    g.selectAll("path,line").attr("stroke", "#000").attr("stroke-width", 1.1);
    g.selectAll("text").remove();
});

// tick labels
svg.selectAll(".xlab").data(xTicks).enter().append("text")
    .attr("class", "xlab")
    .attr("x", d => x(d))
    .attr("y", 523)
    .attr("text-anchor", "middle")
    .style("font-size", "20px")
    .text(d => d);

svg.selectAll(".ylab").data(yTicks).enter().append("text")
    .attr("class", "ylab")
    .attr("x", 96)
    .attr("y", d => y(d) + 6)
    .attr("text-anchor", "end")
    .style("font-size", "20px")
    .text(d => d);

// axis titles
svg.append("text").attr("x", 336).attr("y", 572)
    .style("font-size", "39px").style("font-style", "italic").text("m");
svg.append("text").attr("x", 370).attr("y", 577)
    .style("font-size", "25px").style("font-style", "italic").text("h");
svg.append("text").attr("x", 384).attr("y", 583)
    .style("font-size", "17px").text("1");
svg.append("text").attr("x", 408).attr("y", 572)
    .style("font-size", "35px").text("[GeV]");

svg.append("text")
    .attr("transform", "translate(33,255) rotate(-90)")
    .attr("text-anchor", "middle")
    .style("font-size", "36px")
    .text("Δ");
</script>
</body>
</html>
